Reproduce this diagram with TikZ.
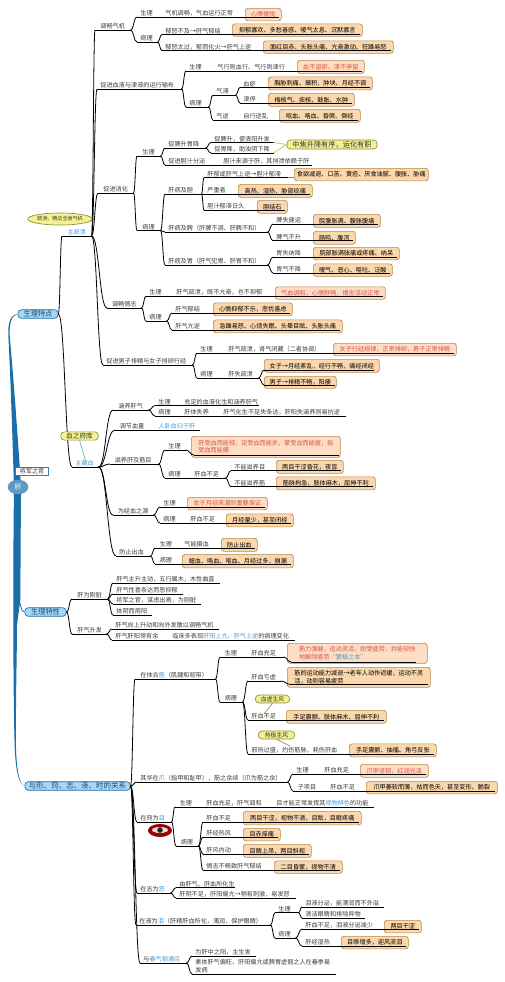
\documentclass[tikz,border=0pt]{standalone}
\usepackage{fontspec}
\setmainfont{Noto Sans CJK SC}
\usetikzlibrary{calc,shapes.geometric}
\definecolor{ink}{HTML}{3A3A3A}
\definecolor{redtx}{HTML}{D8534C}
\definecolor{bluetx}{HTML}{4A9AD4}
\definecolor{boxfill}{HTML}{FAD7AC}
\definecolor{boxline}{HTML}{B8894F}
\definecolor{redfill}{HTML}{FDDDC4}
\definecolor{yfill}{HTML}{F3F28E}
\definecolor{yline}{HTML}{8D8D45}
\definecolor{spine}{HTML}{1A6FA8}
\definecolor{mainfill}{HTML}{A9D6F5}
\tikzset{
 x=0.75pt,y=-0.75pt,
 lbl/.style={inner sep=0pt,text=ink,text depth=0.7pt,text height=4.2pt,font=\fontsize{4.6}{5.6}\selectfont},
 ul/.style={draw=black,line width=0.6pt},
 bx/.style={draw=boxline,fill=boxfill,line width=0.5pt,rounded corners=2pt,inner sep=0pt,font=\fontsize{4.6}{5.6}\selectfont,align=left,anchor=north west},
 ybox/.style={draw=yline,fill=yfill,line width=0.5pt,rounded corners=2.5pt,inner sep=0pt,text=black!80},
 mainb/.style={draw=spine,fill=mainfill,line width=0.5pt,rounded corners=2.5pt,inner sep=0pt,text=spine!70!black,font=\fontsize{5.4}{6.4}\selectfont},
 tailc/.style={draw=yline,line width=0.5pt},
}
\newcommand{\rd}[1]{\textcolor{redtx}{#1}}
\newcommand{\bl}[1]{\textcolor{bluetx}{#1}}
% text node carrying its underline: name,x0,x1,yline,text
\newcommand{\mmT}[5]{%
 \pgfmathsetlengthmacro\mmW{(#3-(#2))*0.75}%
 \node[lbl,anchor=south west] (#1) at (#2,#4) {\makebox[\mmW][l]{\hspace{2.4pt}#5}};%
 \draw[ul] (#1.south west) -- (#1.south east);}
% box: name,x0,x1,y0,y1,text ; optional fill
\newcommand{\mmB}[7][boxfill]{%
 \pgfmathsetlengthmacro\mmW{(#4-(#3))*0.75}%
 \pgfmathsetlengthmacro\mmH{(#6-(#5))*0.75}%
 \node[bx,fill=#1,minimum width=\mmW,minimum height=\mmH] (#2) at (#3,#5) {#7};}
% s-curve between two points
\newcommand{\mmX}[2]{%
 \draw[ul] (#1) .. controls ($(#1)!.5!(#1 -| #2)$) and ($(#2)!.5!(#1 |- #2)$) .. (#2);}
\newcommand{\mmC}[2]{\mmX{#1.south east}{#2.south west}}
\newcommand{\mmL}[2]{\draw[ul] (#1.south east) -- (#2.south west);}
% line from a node's underline into a box
\newcommand{\mmE}[2]{\draw[ul] (#1.south east) -- ($(#1.south east -| #2.south east)+(-3,0)$);}
\begin{document}
\begin{tikzpicture}
\useasboundingbox (0,0) rectangle (504,982);
% ---- root
\node[mainb,minimum width=30pt,minimum height=6.4pt] (tz) at (38,314) {生理特点};
\node[mainb,minimum width=31pt,minimum height=6.4pt] (gx) at (45.5,612) {生理特性};
\node[mainb,minimum width=79pt,minimum height=6.4pt,font=\fontsize{5.6}{6.6}\selectfont] (yx) at (77.5,786) {与形、窍、志、液、时的关系};
\coordinate (ganL) at (14,487);
\coordinate (ganR) at (21,487);
\fill[spine] (ganL) .. controls (12.5,440) and (10.5,375) .. (8.3,335) .. controls (8,323) and (10,315) .. (tz.west)
 .. controls (11,316) and (9.5,323) .. (9.6,335) .. controls (12,360) and (17.5,430) .. (ganR) -- cycle;
\fill[spine] (ganL) .. controls (13,560) and (13,680) .. (14.5,740) .. controls (15,770) and (19,785) .. (yx.west)
 .. controls (20,786) and (16,770) .. (15.8,740) .. controls (16,680) and (17,650) .. (17,625) -- (20.3,600) -- (ganR) -- cycle;
\draw[spine,line width=0.6pt] (20,603) .. controls (21,608) and (22,612) .. (gx.west);
\node[ellipse,fill=spine!70!white,draw=spine!70!white,line width=0.4pt,inner sep=0pt,minimum width=15pt,minimum height=10.5pt,text=white,font=\fontsize{5}{6}\selectfont] (gan) at (18,487) {肝};
\node[draw=spine!90!white,fill=white,line width=1pt,inner sep=0pt,minimum width=25pt,minimum height=6.4pt,text=ink,font=\fontsize{4.6}{5.6}\selectfont] (jj) at (32,471.5) {将军之官};
\node[ellipse,draw=yline,fill=yfill,line width=0.5pt,inner sep=0pt,minimum width=44pt,minimum height=9pt,font=\fontsize{3.8}{4.6}\selectfont,text=black!80] (sx) at (60,219) {疏泄、畅达全身气机};

% ---- zhu shu xie
\mmT{zs}{62}{91}{236}{\hspace{1.6pt}\bl{主疏泄}}
\mmT{zc}{72}{98}{467}{\bl{主藏血}}
\mmX{tz.east}{zs.south west}
\mmX{tz.east}{zc.south west}

% 调畅气机
\mmT{a}{95}{130}{30}{\hspace{1.5pt}调畅气机}
\mmC{zs}{a}
\mmT{a1}{137}{157}{17}{生理}
\mmT{a11}{162}{237}{17}{气机调畅，气血运行正常}
\mmB[redfill]{a12}{245}{281}{8}{20.5}{\rd{心情愉悦}}
\mmL{a1}{a11}\mmE{a11}{a12}
\mmT{a2}{137}{157}{42}{病理}
\mmC{a}{a1}\mmC{a}{a2}
\mmT{a21}{162}{222}{34.5}{郁怒不及→肝气郁结}
\mmB{a22}{232}{362}{23.5}{36}{抑郁寡欢、多愁善感、嗳气太息、沉默寡言}
\mmE{a21}{a22}
\mmT{a31}{162}{255}{50.5}{郁怒太过，郁而化火→肝气上逆}
\mmB{a32}{263}{393}{40.5}{53}{面红目赤、头胀头痛、亢奋激动、狂躁易怒}
\mmE{a31}{a32}
\mmC{a2}{a21}\mmC{a2}{a31}

% 促进血液
\mmT{b}{97}{181}{89}{促进血液与津液的运行输布}
\mmC{zs}{b}
\mmT{b1}{186}{208}{71}{生理}
\mmT{b11}{214}{290}{71}{气行则血行、气行则津行}
\mmB[redfill]{b12}{297}{364}{60}{73}{\rd{血不留瘀、津不停留}}
\mmL{b1}{b11}\mmE{b11}{b12}
\mmT{b2}{186}{208}{107}{病理}
\mmC{b}{b1}\mmC{b}{b2}
\mmT{b3}{213}{235}{95}{气滞}
\mmT{b4}{213}{235}{120}{气逆}
\mmC{b2}{b3}\mmC{b2}{b4}
\mmT{b31}{240}{262}{87.5}{血瘀}
\mmB{b32}{268}{372}{76.5}{89.5}{胸胁刺痛、癥积、肿块、月经不调}
\mmE{b31}{b32}
\mmT{b41}{240}{262}{103}{津停}
\mmB{b42}{268}{354}{93}{106}{梅核气、痰核、鼓胀、水肿}
\mmE{b41}{b42}
\mmC{b3}{b31}\mmC{b3}{b41}
\mmT{b51}{240}{272}{120}{自行逆乱}
\mmB{b52}{279}{360}{109}{122}{呕血、咯血、昏厥、倒经}
\mmL{b4}{b51}\mmE{b51}{b52}

% 促进消化
\mmT{c}{98}{133}{193}{\hspace{1.5pt}促进消化}
\mmC{zs}{c}
\mmT{c1}{137}{160}{156}{\hspace{1.5pt}生理}
\mmT{c2}{137}{160}{230.5}{\hspace{1.5pt}病理}
\mmC{c}{c1}\mmC{c}{c2}
\mmT{c11}{165}{205}{148}{促脾升胃降}
\mmT{c12}{165}{215}{165}{促进胆汁分泌}
\mmC{c1}{c11}\mmC{c1}{c12}
\mmT{c13}{220}{311}{165}{胆汁来源于肝，其排泄依赖于肝}
\mmL{c12}{c13}
\mmT{c111}{211}{273}{142.5}{促脾升，使清阳升发}
\mmT{c112}{211}{273}{153}{促胃降，助浊阴下降}
\mmC{c11}{c111}\mmC{c11}{c112}
\node[ybox,minimum width=67.5pt,minimum height=6.8pt,font=\fontsize{5.4}{6.4}\selectfont] (zj) at (332,144.5) {中焦升降有序，运化有职};
\draw[yfill!85!black,line width=0.7pt] (c111.south east) -- (zj.west);
\draw[yfill!85!black,line width=0.7pt] (c112.south east) -- (zj.west);
\mmT{c3}{165}{201}{194}{肝病及胆}
\mmT{c4}{165}{267}{232}{肝病及脾（肝脾不调、肝脾不和）}
\mmT{c5}{165}{267}{265}{肝病及胃（肝气犯胃、肝胃不和）}
\mmC{c2}{c3}\mmC{c2}{c4}\mmC{c2}{c5}
\mmT{c31}{204}{287}{177.7}{肝郁或肝气上逆→胆汁郁滞}
\mmB{c32}{294}{428}{168}{180.5}{食欲减退、口苦、黄疸、厌食油腻、腹胀、胁痛}
\draw[gray,line width=0.5pt] (c31.south east) -- (c32.west |- c31.south east);
\mmT{c33}{204}{232}{194}{严重者}
\mmB{c34}{238}{312}{184}{197}{高热、湿热、胁部绞痛}
\mmE{c33}{c34}
\mmT{c35}{204}{250}{210}{胆汁郁滞日久}
\mmB{c36}{257}{287}{200}{213}{胆结石}
\mmE{c35}{c36}
\mmC{c3}{c31}\mmC{c3}{c33}\mmC{c3}{c35}
\mmT{c41}{273}{305}{224}{脾失健运}
\mmB{c42}{313}{380}{214}{227}{脘腹胀满、腹胀腹痛}
\mmE{c41}{c42}
\mmT{c43}{273}{305}{240.7}{脾气不升}
\mmB{c44}{313}{355}{231}{244}{肠鸣、腹泻}
\mmE{c43}{c44}
\mmC{c4}{c41}\mmC{c4}{c43}
\mmT{c51}{273}{305}{257}{胃失纳降}
\mmB{c52}{313}{399}{247}{259.5}{脘部胀满胀痛或疼痛、纳呆}
\mmE{c51}{c52}
\mmT{c53}{273}{305}{273}{胃气不降}
\mmB{c54}{313}{392}{263.5}{276}{嗳气、恶心、呕吐、泛酸}
\mmE{c53}{c54}
\mmC{c5}{c51}\mmC{c5}{c53}

% 调畅情志
\mmT{d}{107}{141}{308}{\hspace{1.2pt}调畅情志}
\mmC{zs}{d}
\mmT{d1}{146}{167}{296}{生理}
\mmT{d11}{173}{268}{296}{肝气疏泄，既不亢奋，也不抑郁}
\mmB[redfill]{d12}{275}{385}{286.5}{299}{\rd{气血调和，心情舒畅，情志活动正常}}
\mmL{d1}{d11}\mmE{d11}{d12}
\mmT{d2}{146}{166}{321}{病理}
\mmC{d}{d1}\mmC{d}{d2}
\mmT{d21}{172}{205}{313}{肝气郁结}
\mmB{d22}{213}{292}{302.5}{315.5}{心情抑郁不乐，悲忧善虑}
\mmE{d21}{d22}
\mmT{d23}{172}{205}{330}{肝气亢逆}
\mmB{d24}{213}{342}{319.5}{332.5}{急躁易怒、心烦失眠、头晕目眩、头胀头痛}
\mmE{d23}{d24}
\mmC{d2}{d21}\mmC{d2}{d23}

% 促进男子
\mmT{e}{103}{192}{365}{促进男子排精与女子排卵行经}
\mmC{zs}{e}
\mmT{e1}{197}{220}{353}{生理}
\mmT{e11}{225}{323}{353}{肝气疏泄，肾气闭藏（二者协调）}
\mmB[redfill]{e12}{333}{456}{343}{355.5}{\rd{女子行经规律，正常排卵，男子正常排精}}
\mmL{e1}{e11}\mmE{e11}{e12}
\mmT{e2}{197}{220}{378}{病理}
\mmC{e}{e1}\mmC{e}{e2}
\mmT{e21}{225}{258}{378}{肝失疏泄}
\mmL{e2}{e21}
\mmB{e22}{264}{379}{359}{372}{女子→月经紊乱，经行不畅，痛经闭经}
\mmB{e23}{264}{336}{376}{388}{男子→排精不畅，阳痿}
\mmT{e24}{264}{373}{370}{}
\mmT{e25}{264}{334}{385}{}
\mmC{e21}{e24}\mmC{e21}{e25}

% ---- 主藏血
\node[ybox,minimum width=28pt,minimum height=6.2pt,font=\fontsize{5}{6}\selectfont] (xk) at (79.5,436) {血之府库};
\draw[teal!60!white,line width=0.5pt] (xk.south) -- (zc.north);
\mmT{f}{113}{148}{410}{\hspace{1.5pt}涵养肝气}
\mmC{zc}{f}
\mmT{f1}{155}{177}{405.7}{生理}
\mmT{f11}{181}{258}{405.7}{充足的血液化生和涵养肝气}
\mmL{f1}{f11}
\mmT{f2}{155}{176}{416}{病理}
\mmT{f21}{181}{213}{416}{肝体失养}
\mmT{f22}{220}{345}{416}{肝气化生不足失条达，肝阳失涵养则易抗逆}
\mmL{f2}{f21}\mmL{f21}{f22}
\mmC{f}{f1}\mmC{f}{f2}
\mmT{g}{115}{148}{430}{\hspace{1pt}调节血量}
\mmC{zc}{g}
\mmT{g1}{155}{199}{430}{\bl{人卧血归于肝}}
\mmL{g}{g1}
\mmT{h}{110}{158}{464}{\hspace{1pt}滋养肝及筋目}
\mmC{zc}{h}
\mmT{h1}{165}{185}{450}{生理}
\mmT{h2}{165}{188}{478}{病理}
\mmC{h}{h1}\mmC{h}{h2}
\mmB[redfill]{h11}{191}{340}{436}{457}{\rd{肝受血而能视，足受血而能步，掌受血而能握，指}\\\rd{受血而能摄}}
\mmT{h12}{194}{338}{455}{}
\mmC{h1}{h12}
\mmT{h21}{191}{225}{478}{肝血不足}
\mmL{h2}{h21}
\mmT{h3}{231}{268}{470.7}{不能滋养目}
\mmB{h31}{276}{343}{460}{473}{两目干涩昏花，夜盲}
\mmE{h3}{h31}
\mmT{h4}{231}{268}{486.7}{不能滋养筋}
\mmB{h41}{276}{375}{476.5}{489.5}{筋脉拘急，肢体麻木，屈伸不利}
\mmE{h4}{h41}
\mmC{h21}{h3}\mmC{h21}{h4}

\mmT{i}{113}{153}{515}{\hspace{1pt}为经血之源}
\mmC{zc}{i}
\mmT{i1}{160}{180}{507}{生理}
\mmB[redfill]{i11}{187}{267}{497}{509.5}{\rd{女子月经来潮的重要保证}}
\mmE{i1}{i11}
\mmT{i2}{160}{180}{523}{病理}
\mmT{i21}{187}{219}{523}{肝血不足}
\mmB{i22}{226}{293}{513.5}{526.5}{月经量少，甚至闭经}
\mmL{i2}{i21}\mmE{i21}{i22}
\mmC{i}{i1}\mmC{i}{i2}
\mmT{j}{116}{150}{556}{防止出血}
\mmC{zc}{j}
\mmT{j1}{155}{176}{548}{\hspace{1pt}生理}
\mmT{j11}{181}{213}{548}{气能摄血}
\mmB{j12}{221}{257}{538}{551}{防止出血}
\mmL{j1}{j11}\mmE{j11}{j12}
\mmT{j2}{155}{176}{564}{\hspace{1pt}病理}
\mmB{j21}{182}{293}{554}{567.5}{衄血、咯血、呕血、月经过多，崩漏}
\mmE{j2}{j21}
\mmC{j}{j1}\mmC{j}{j2}

% ---- 生理特性
\mmT{k}{72}{107}{599}{\hspace{1.5pt}肝为刚脏}
\mmT{l}{72}{106}{634}{\hspace{1.5pt}肝气升发}
\mmX{gx.east}{k.south west}
\mmX{gx.east}{l.south west}
\mmT{k1}{113}{219}{583}{肝气主升主动，五行属木，木性曲直}
\mmT{k2}{113}{182}{594}{肝气性喜条达而恶抑郁}
\mmT{k3}{113}{200}{604}{将军之官，谋虑出焉，为刚脏}
\mmT{k4}{113}{151}{615}{体阴而用阳}
\mmC{k}{k1}\mmC{k}{k2}\mmC{k}{k3}\mmC{k}{k4}
\mmT{l1}{112}{218}{629}{肝气向上升动和向外发散以调畅气机}
\mmT{l2}{112}{164}{640}{肝气肝阳常有余}
\mmT{l21}{169}{294}{640}{临床多表现\bl{肝阳上亢、肝气上逆}的病理变化}
\mmL{l2}{l21}
\mmC{l}{l1}\mmC{l}{l2}

% ---- 与形窍志液时
\mmT{m}{135}{215}{679}{\hspace{1.5pt}在体合\bl{筋}（肌腱和韧带）}
\mmX{yx.east}{m.south west}
\mmT{m1}{220}{243}{657}{\hspace{1pt}生理}
\mmT{m11}{248}{283}{657}{肝血充足}
\mmL{m1}{m11}
\mmB[redfill]{m12}{287}{427}{643}{663}{\rd{筋力强健，运动灵活，耐受疲劳，并能较快}\\\rd{地解除疲劳}\bl{“罢极之本”}}
\mmT{m13}{291}{415}{662}{}
\mmC{m11}{m13}
\mmT{m2}{220}{242}{702}{\hspace{1pt}病理}
\mmC{m}{m1}\mmC{m}{m2}
\mmT{m21}{248}{280}{681}{肝血亏虚}
\mmB{m22}{287}{430}{667}{687}{筋的运动能力减退→老年人动作迟缓，运动不灵\\活，动则容易疲劳}
\mmT{m23}{291}{427}{684.5}{}
\mmC{m21}{m23}
\mmT{m31}{248}{279}{720}{肝血不足}
\mmB{m32}{286}{386}{710}{723}{手足震颤、肢体麻木、屈伸不利}
\mmE{m31}{m32}
\mmT{m41}{248}{342}{754}{邪热过盛，灼伤筋脉，耗伤肝血}
\mmB{m42}{349}{436}{743.5}{756.5}{手足震颤、抽搐、角弓反张}
\mmE{m41}{m42}
\mmC{m2}{m21}\mmC{m2}{m31}\mmC{m2}{m41}
\node[ybox,minimum width=26pt,minimum height=6pt,font=\fontsize{4.4}{5.4}\selectfont,rounded corners=3pt] (xx) at (272.5,699) {血虚生风};
\coordinate (xxt) at (264,714);
\draw[tailc] (xx.south) -- (xxt);
\node[ybox,minimum width=27.5pt,minimum height=6pt,font=\fontsize{4.4}{5.4}\selectfont,rounded corners=3pt] (rj) at (276.5,735) {热极生风};
\coordinate (rjt) at (290,746);
\draw[tailc] (rj.south) -- (rjt);

\mmT{n}{137}{287}{782}{其华在\bl{爪}（指甲和趾甲），筋之余续（爪为筋之余）}
\mmX{yx.east}{n.south west}
\mmT{n1}{293}{316}{774}{生理}
\mmT{n11}{321}{352}{774}{肝血充足}
\mmB[redfill]{n12}{360}{428}{764}{777}{\rd{爪甲坚韧，红润光泽}}
\mmL{n1}{n11}\mmE{n11}{n12}
\mmT{n2}{293}{322}{791}{\hspace{1pt}子项目}
\mmT{n21}{327}{359}{791}{肝血不足}
\mmB{n22}{366}{497}{781}{793.5}{爪甲萎软而薄，枯而色夭，甚至变形、脆裂}
\mmL{n2}{n21}\mmE{n21}{n22}
\mmC{n}{n1}\mmC{n}{n2}

\mmT{o}{137}{171}{822}{在窍为\bl{目}}
\mmX{yx.east}{o.south west}
\mmT{o1}{175}{198}{807}{\hspace{1pt}生理}
\mmT{o11}{203}{266}{807}{肝血充足，肝气调和}
\mmT{o12}{273}{373}{807}{目才能正常发挥其\bl{视物辨色}的功能}
\mmL{o1}{o11}\mmL{o11}{o12}
\mmT{o2}{176}{198}{846}{\hspace{1pt}病理}
\mmC{o}{o1}\mmC{o}{o2}
\mmT{o21}{203}{236}{822}{肝血不足}
\mmB{o22}{243}{361}{811}{824.5}{两目干涩，视物不清，目眩，目眶疼痛}
\mmE{o21}{o22}
\mmT{o23}{203}{236}{837}{肝经热风}
\mmB{o24}{243}{280}{828}{840.5}{目赤痒痛}
\mmE{o23}{o24}
\mmT{o25}{203}{236}{854}{肝风内动}
\mmB{o26}{243}{311}{844}{857}{目睛上吊，两目斜视}
\mmE{o25}{o26}
\mmT{o27}{203}{267}{870}{情志不畅致肝气郁结}
\mmB{o28}{274}{342}{860.5}{873}{二目昏蒙，视物不清}
\mmE{o27}{o28}
\mmC{o2}{o21}\mmC{o2}{o23}\mmC{o2}{o25}\mmC{o2}{o27}
% eye
\fill[red!60!black] (160,830.5) ellipse [x radius=12,y radius=6.5];
\fill[black!12] (160,830) ellipse [x radius=8,y radius=3];
\fill[black!85] (160,830) circle [radius=2.8];

\mmT{p}{137}{170}{893}{在志为\bl{怒}}
\mmX{yx.east}{p.south west}
\mmT{p1}{176}{234}{887.7}{由肝气、肝血所化生}
\mmT{p2}{176}{295}{898}{肝阴不足，肝阳偏亢→稍有刺激，易发怒}
\mmC{p}{p1}\mmC{p}{p2}

\mmT{q}{136}{270}{925}{在液为\bl{泪}（肝精肝血所化，濡润，保护眼睛）}
\mmX{yx.east}{q.south west}
\mmT{q1}{275}{298}{912.7}{生理}
\mmT{q2}{275}{295}{938}{病理}
\mmC{q}{q1}\mmC{q}{q2}
\mmT{q11}{302}{383}{907}{泪液分泌，能濡润而不外溢}
\mmT{q12}{302}{364}{918}{清洁眼睛和排除异物}
\mmC{q1}{q11}\mmC{q1}{q12}
\mmT{q21}{302}{377}{929}{肝血不足，泪液分泌减少}
\mmB{q22}{384}{421}{920}{932.5}{两目干涩}
\mmE{q21}{q22}
\mmT{q23}{302}{333}{946}{肝经湿热}
\mmB{q24}{341}{408}{936}{948.5}{目眵增多，迎风流泪}
\mmE{q23}{q24}
\mmC{q2}{q21}\mmC{q2}{q23}

\mmT{r}{140}{186}{963}{与\bl{春气相通应}}
\mmX{yx.east}{r.south west}
\mmT{r1}{192}{255}{956}{为肝中之阳，主生发}
\node[lbl,anchor=south west] (r3) at (195,966) {素体肝气偏旺、肝阳偏亢或脾胃虚弱之人在春季易};
\mmT{r2}{192}{335}{974}{发病}
\mmC{r}{r1}\mmC{r}{r2}
\end{tikzpicture}
\end{document}
